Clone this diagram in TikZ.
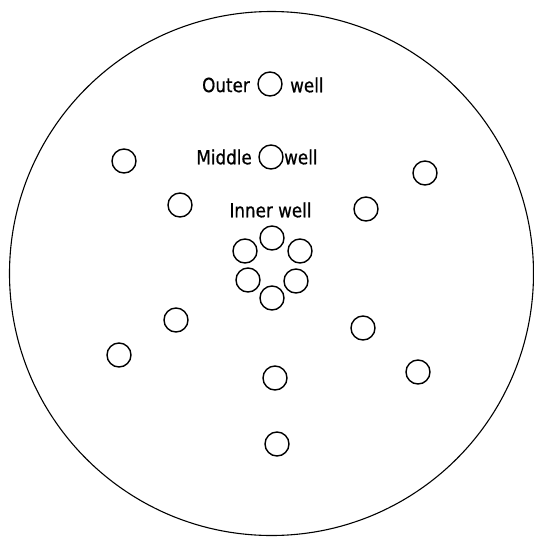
\documentclass[tikz,border=0pt]{standalone}
\usepackage{fontspec}
\setmainfont[FakeStretch=0.86,FakeBold=0.6]{DejaVu Sans}
\begin{document}
\begin{tikzpicture}[x=1pt,y=-1pt,
  well/.style={draw, circle, minimum size=24pt, inner sep=0pt, line width=1.4pt},
  lab/.style={font=\fontsize{19.5}{19.5}\selectfont, inner sep=0pt}]
\useasboundingbox (0,0) rectangle (534,542);
\node[draw, circle, minimum size=524pt, inner sep=0pt, line width=1.1pt] (plate) at (271.5,273.5) {};
% legend
\node[well] (lo) at (270,84) {};
\node[lab, anchor=east] (to) at (250,85) {Outer};
\node[lab, anchor=west] (two) at (290,85) {well};
\node[well] (lm) at (271,157) {};
\node[lab, anchor=east] (tm) at (252,157) {Middle};
\node[lab, anchor=west] (twm) at (284,157) {well};
\node[lab] (ti) at (270.5,210) {Inner well};
% inner ring
\node[well] (i1) at (272,238) {};
\node[well] (i2) at (245,251) {};
\node[well] (i3) at (300,251) {};
\node[well] (i4) at (248,280) {};
\node[well] (i5) at (296,281) {};
\node[well] (i6) at (272,298) {};
% middle ring
\node[well] (m1) at (180,205) {};
\node[well] (m2) at (366,209) {};
\node[well] (m3) at (176,320) {};
\node[well] (m4) at (363,328) {};
\node[well] (m5) at (275,378) {};
% outer ring
\node[well] (o1) at (124,161) {};
\node[well] (o2) at (425,173) {};
\node[well] (o3) at (119,355) {};
\node[well] (o4) at (418,372) {};
\node[well] (o5) at (277,444) {};
\end{tikzpicture}
\end{document}
